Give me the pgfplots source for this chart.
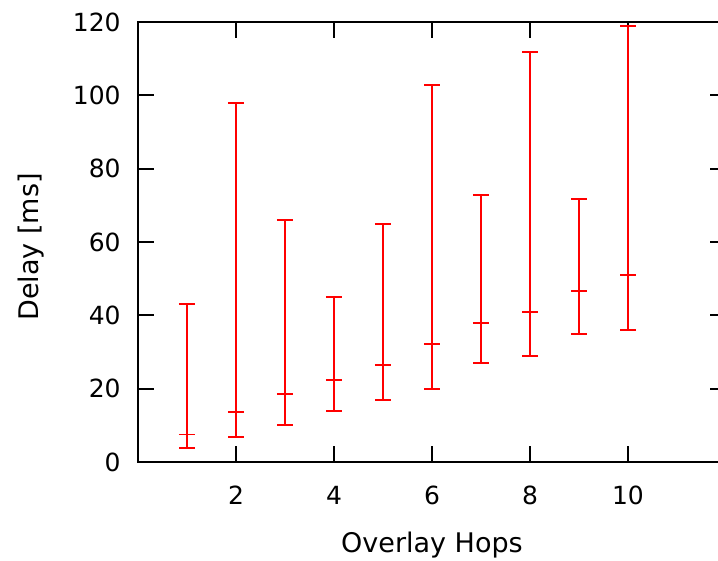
\documentclass[border=0pt]{standalone}
\usepackage{pgfplots}
\pgfplotsset{compat=1.18}
\usepackage{pgfplotstable}
\usepackage{fontspec}
\setmainfont{DejaVu Sans}
\pgfplotstableread{
x y ep em
1 7.5 35.6 3.6
2 13.7 84.3 6.8
3 18.6 47.4 8.6
4 22.4 22.5 8.5
5 26.5 38.4 9.5
6 32.1 70.7 12.2
7 37.9 35.0 10.9
8 40.8 71.1 11.9
9 46.6 25.2 11.7
10 50.9 68.0 15.0
}\delaydata
\begin{document}
\begin{tikzpicture}
\begin{axis}[
  scale only axis, width=294pt, height=220pt,
  xmin=0, xmax=12, ymin=0, ymax=120,
  xtick={2,4,6,8,10}, ytick={0,20,...,120},
  minor tick num=0,
  major tick length=8pt,
  tick style={black, line width=1pt},
  axis line style={line width=1pt},
  /pgf/number format/assume math mode=true,
  tick label style={font=\fontsize{12.5}{15}\selectfont, inner sep=0pt},
  xticklabel style={anchor=base, yshift=-21.5pt},
  yticklabel style={anchor=east, xshift=-8.5pt},
  xlabel={Overlay Hops}, ylabel={Delay [ms]},
  every axis x label/.style={at={(axis description cs:0.5,0)}, anchor=base, yshift=-45.5pt, font=\fontsize{13.5}{16}\selectfont},
  every axis y label/.style={at={([xshift=-53.5pt,yshift=-2.5pt]axis description cs:0,0.5)}, rotate=90, anchor=center, font=\fontsize{13.5}{16}\selectfont},
  clip=false,
]
\addplot[red, line width=0.9pt, mark=+, mark size=4pt, only marks,
  error bars/.cd, y dir=both, y explicit,
  error mark=|,
  error bar style={red, line width=0.9pt},
  error mark options={mark size=4pt, red, line width=0.9pt}]
  table[x=x, y=y, y error plus=ep, y error minus=em] {\delaydata};
\end{axis}
\pgfresetboundingbox
\path[use as bounding box] ([shift={(-69pt,-49.5pt)}]current axis.south west) rectangle ([shift={(290pt,231pt)}]current axis.south west);
\end{tikzpicture}
\end{document}
